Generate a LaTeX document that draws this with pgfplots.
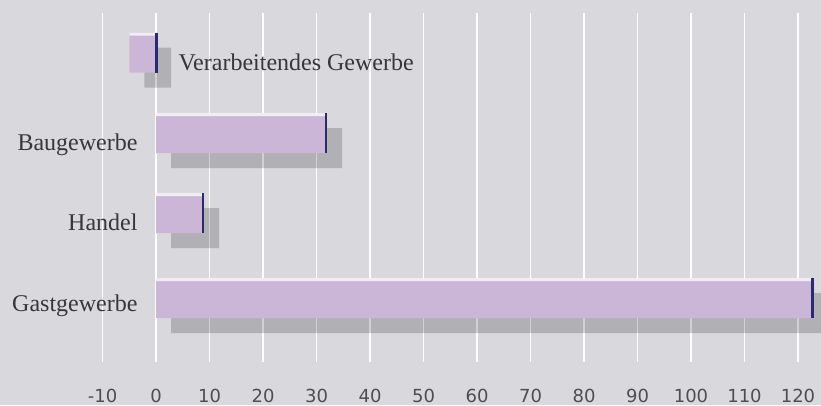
\documentclass[border=0pt]{standalone}
\usepackage{fontspec}
\setmainfont{DejaVu Sans}
\newfontfamily\labelfont{Liberation Serif}
\usepackage{pgfplots}
\pgfplotsset{compat=1.18}

\definecolor{bg}{RGB}{217,217,221}
\definecolor{barfill}{RGB}{204,182,216}
\definecolor{edgeblue}{RGB}{40,44,110}
\definecolor{txt}{RGB}{55,55,58}
\definecolor{ticktxt}{RGB}{78,78,82}

\begin{document}
\begin{tikzpicture}
\fill[bg] (0pt,0pt) rectangle (821pt,405pt);
\useasboundingbox (0pt,0pt) rectangle (821pt,405pt);
\begin{axis}[
  at={(0pt,43pt)}, anchor=south west,
  scale only axis, width=821pt, height=349pt,
  xmin=-29.16, xmax=124.3,
  ymin=13, ymax=362, y dir=reverse,
  axis line style={draw=none},
  ytick=\empty,
  xtick={-10,0,...,120},
  major tick length=0pt,
  xmajorgrids,
  major grid style={white, line width=1.5pt},
  extra x ticks={0}, extra x tick labels={},
  extra x tick style={grid=major, major grid style={white, line width=2.6pt}},
  /pgf/number format/assume math mode=true,
  xticklabel style={font=\fontsize{18}{18}\selectfont, text=ticktxt, anchor=base, yshift=-40pt},
  clip=true,
]
% drop shadows behind the bars
\addplot[xbar, bar width=40, fill=black, fill opacity=0.18, draw=none,
  xshift=15pt, yshift=-15pt]
  coordinates {(-5,52.5) (32,133) (9,213) (123,298)};
% bars
\addplot[xbar, bar width=40, fill=barfill, draw=none]
  coordinates {(-5,52.5) (32,133) (9,213) (123,298)};
% light top edge of each bar
\addplot[xbar, bar width=3, fill=white, fill opacity=0.75, draw=none]
  coordinates {(-5,34) (32,114.5) (9,194.5) (123,279.5)};
% dark right edge of each bar
\addplot[only marks, mark=|, mark size=20pt,
  mark options={draw=edgeblue, line width=2.6pt}]
  coordinates {(0.1,52.5) (31.75,133) (8.75,213) (122.75,298)};

\begin{scope}[font=\labelfont\fontsize{24}{24}\selectfont, text=txt]
\node[anchor=base west] at (axis cs:3.55,70) {Verarbeitendes Gewerbe};
\node[anchor=base east] at (axis cs:-2.8,150) {Baugewerbe};
\node[anchor=base east] at (axis cs:-2.8,230) {Handel};
\node[anchor=base east] at (axis cs:-2.8,311) {Gastgewerbe};
\end{scope}
\end{axis}
\end{tikzpicture}
\end{document}
